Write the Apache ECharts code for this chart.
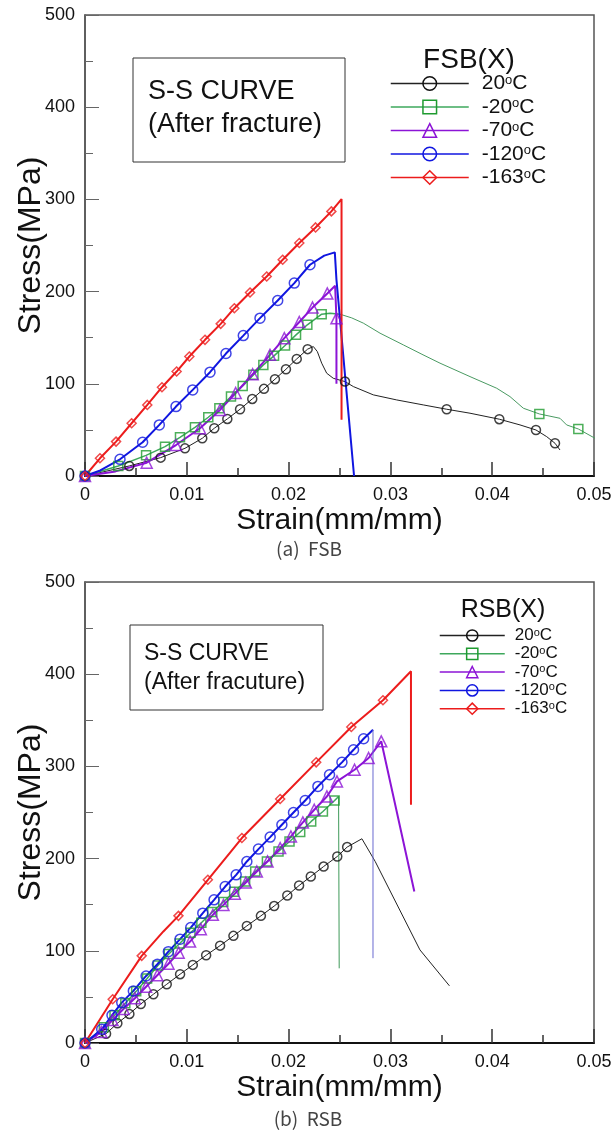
<!DOCTYPE html>
<html>
<head>
<meta charset="utf-8">
<script src="https://cdn.jsdelivr.net/npm/echarts@6/dist/echarts.min.js"></script>
<style>
html, body { margin: 0; padding: 0; background: #fff; }
#chart { width: 613px; height: 1136px; }
</style>
</head>
<body>
<div id="chart"></div>
<script>
// Test temperatures (legend order)
const temps = ['20', '-20', '-70', '-120', '-163'];

// ---------- FSB specimens: [strain (mm/mm), stress (MPa)] ----------
const fsb20Line = [[0,0],[0.00435,10.9],[0.00743,19.9],[0.00982,30],[0.01152,40.9],[0.0127,51.8],[0.01398,61.9],[0.01523,72.4],[0.01643,83.6],[0.01758,94.5],[0.01866,105],[0.01974,115.8],[0.0208,127],[0.02187,137.6],[0.02243,140.4],[0.02282,135],[0.02325,122.4],[0.02374,111.5],[0.02439,106],[0.02554,102.4],[0.02636,97],[0.02832,88],[0.03062,82.5],[0.03323,77.1],[0.03553,72.4],[0.03782,68.1],[0.0407,61.6],[0.04273,55.4],[0.0443,49.9],[0.04535,42.7],[0.04617,35.5],[0.04666,28.2]];
const fsb20Marks = [[0,0],[0.00435,10.9],[0.00743,19.9],[0.00982,30],[0.01152,40.9],[0.0127,51.8],[0.01398,61.9],[0.01523,72.4],[0.01643,83.6],[0.01758,94.5],[0.01866,105],[0.01974,115.8],[0.0208,127],[0.02187,137.6],[0.02554,102.4],[0.03553,72.4],[0.0407,61.6],[0.0443,49.9],[0.04617,35.5]];

const fsbM20Line = [[0,0],[0.00327,10.9],[0.006,22.4],[0.00786,31.8],[0.00933,42],[0.0108,52.8],[0.01211,63.7],[0.0132,73.5],[0.01434,86.1],[0.01549,97.7],[0.01654,109.7],[0.01752,120.5],[0.01857,130.3],[0.01965,141.5],[0.02073,153.1],[0.02184,164],[0.02325,175.5],[0.02407,176.6],[0.02505,175.5]];
const fsbM20Tail = [[0.02505,175.5],[0.0262,171.5],[0.02734,165.8],[0.02898,154.9],[0.03127,142.2],[0.0331,132],[0.03487,122.4],[0.03782,107.8],[0.04044,95.2],[0.04175,86.1],[0.04306,73.5],[0.04463,67.3],[0.04666,62.6],[0.04731,55.4],[0.04846,51],[0.0501,40.9],[0.05157,35.5],[0.0524,33]];
const fsbM20Marks = [[0,0],[0.00327,10.9],[0.006,22.4],[0.00786,31.8],[0.00933,42],[0.0108,52.8],[0.01211,63.7],[0.0132,73.5],[0.01434,86.1],[0.01549,97.7],[0.01654,109.7],[0.01752,120.5],[0.01857,130.3],[0.01965,141.5],[0.02073,153.1],[0.02184,164],[0.02325,175.5],[0.04463,67.3],[0.04846,51]];

const fsbM70Line = [[0,0],[0.003,5],[0.00606,14.4],[0.00894,33.6],[0.0113,51.8],[0.01326,71.7],[0.0148,90],[0.01647,110.4],[0.01817,131.4],[0.01958,149.5],[0.02105,167],[0.02235,182.7],[0.0238,198],[0.02457,206.3],[0.0247,171],[0.0247,100]];
const fsbM70Marks = [[0,0],[0.00606,14.4],[0.00894,33.6],[0.0113,51.8],[0.01326,71.7],[0.0148,90],[0.01647,110.4],[0.01817,131.4],[0.01958,149.5],[0.02105,167],[0.02235,182.7],[0.0238,198],[0.0247,171]];

const fsbM120Line = [[0,0],[0.0015,6],[0.00344,18.1],[0.00566,36.6],[0.0073,55.4],[0.00894,75.3],[0.01058,93.4],[0.01228,112.6],[0.01385,132.8],[0.01555,152.3],[0.01719,171.2],[0.01893,190.3],[0.02056,209.2],[0.0221,229.1],[0.0235,239],[0.02454,242.5],[0.0247,213],[0.02643,0]];
const fsbM120Marks = [[0,0],[0.00344,18.1],[0.00566,36.6],[0.0073,55.4],[0.00894,75.3],[0.01058,93.4],[0.01228,112.6],[0.01385,132.8],[0.01555,152.3],[0.01719,171.2],[0.01893,190.3],[0.02056,209.2],[0.0221,229.1]];

const fsbM163Line = [[0,0],[0.00147,19.2],[0.00305,37.3],[0.00458,57.2],[0.00612,77.1],[0.00756,96.3],[0.009,113.3],[0.01025,129.6],[0.01179,147.7],[0.01333,165],[0.01467,182],[0.01621,199],[0.01785,216.4],[0.01942,234.5],[0.02105,252.7],[0.02265,269.6],[0.0242,287],[0.0252,300.4],[0.0252,61]];
const fsbM163Marks = [[0,0],[0.00147,19.2],[0.00305,37.3],[0.00458,57.2],[0.00612,77.1],[0.00756,96.3],[0.009,113.3],[0.01025,129.6],[0.01179,147.7],[0.01333,165],[0.01467,182],[0.01621,199],[0.01785,216.4],[0.01942,234.5],[0.02105,252.7],[0.02265,269.6],[0.0242,287]];

// ---------- RSB specimens: [strain (mm/mm), stress (MPa)] ----------
const rsb20Marks = [[0,0],[0.00207,10.1],[0.00318,21.4],[0.00436,31.5],[0.00548,42.3],[0.00672,52.9],[0.00803,63.7],[0.00934,74.6],[0.01059,84.7],[0.0119,95.2],[0.01327,105.6],[0.01458,116.2],[0.0159,127],[0.01728,137.9],[0.01858,148.5],[0.01987,160],[0.02103,170.8],[0.02218,180.6],[0.02344,191.4],[0.02478,202.3],[0.02575,212.5]];
const rsb20Line = rsb20Marks.concat([[0.0272,221.5],[0.0285,197],[0.0329,101],[0.0358,62]]);

const rsbM20Marks = [[0,0],[0.00185,17],[0.0029,30],[0.00396,43],[0.00503,56],[0.0061,70],[0.00716,84],[0.00823,96.5],[0.0093,108],[0.01036,119.5],[0.01143,130.5],[0.0125,142],[0.01358,153],[0.01465,164],[0.01573,175.1],[0.01672,186],[0.01787,196.9],[0.01901,207.7],[0.02009,218.6],[0.02114,228.8],[0.02222,240.3],[0.02337,251.1],[0.02452,263]];
const rsbM20Line = rsbM20Marks.concat([[0.02491,267.4]]);
const rsbM20Tail = [[0.02491,267.4],[0.02497,81]];

const rsbM70Marks = [[0,0],[0.0016,12],[0.0027,25],[0.0038,37],[0.0049,48.5],[0.006,61],[0.0071,73.5],[0.0082,86],[0.0092,98],[0.01032,110],[0.01138,123.5],[0.01256,139],[0.0136,149.8],[0.01472,162],[0.0158,174],[0.01688,186],[0.01793,196.9],[0.01917,211.4],[0.02023,224],[0.0214,239.2],[0.02252,253],[0.02376,267.4],[0.02475,283.7],[0.02648,296.4],[0.02786,309.1],[0.0291,327.2]];
const rsbM70Line = rsbM70Marks.concat([[0.03235,164.3]]);

const rsbM120Marks = [[0,0],[0.00164,14.8],[0.00265,30],[0.00361,43.8],[0.00475,56.5],[0.006,72.7],[0.00711,85.4],[0.00819,99.1],[0.00934,112.6],[0.01039,125.2],[0.01157,140.8],[0.01268,155.3],[0.01377,169.7],[0.01485,182.4],[0.0159,196.9],[0.01704,210.3],[0.01819,223.3],[0.01934,236.7],[0.02048,250],[0.02163,263],[0.02288,278.3],[0.02402,291],[0.02524,304.4],[0.02638,318],[0.02737,330]];
const rsbM120Line = rsbM120Marks.concat([[0.02829,339.8]]);
const rsbM120Tail = [[0.02829,339.8],[0.02829,92]];

const rsbM163Marks = [[0,0],[0.00272,47.4],[0.00557,94.5],[0.00918,137.9],[0.01207,177],[0.01541,222.3],[0.01917,264.6],[0.02271,304.4],[0.02616,342.8],[0.02927,371.7]];
const rsbM163Line = [[0,0],[0.00272,47.4],[0.00557,94.5],[0.0077,121],[0.00918,137.9],[0.01207,177],[0.01541,222.3],[0.01917,264.6],[0.02271,304.4],[0.02616,342.8],[0.02927,371.7],[0.03202,403.2],[0.03202,258.4]];

// ---------- appearance ----------
const FONT = '"Liberation Sans", Arial, Helvetica, sans-serif';
const look = {
  '20':   { line: '#222222', mark: '#111111', symbol: 'circle',   size: 9,  width: 1 },
  '-20':  { line: '#3ea85c', mark: '#1f9b30', symbol: 'rect',     size: 9,  width: 1.5 },
  '-70':  { line: '#8c14d6', mark: '#8c14d6', symbol: 'triangle', size: 11, width: 2 },
  '-120': { line: '#1016e0', mark: '#1016e0', symbol: 'circle',   size: 10, width: 2 },
  '-163': { line: '#ec1c1c', mark: '#ec1c1c', symbol: 'diamond',  size: 9,  width: 2 }
};

const series = [];
function addCurve(gi, prefix, t, line, marks, tail, tailColor, noClip) {
  const s = look[t];
  const name = prefix + ' ' + t;
  series.push({
    type: 'line', name: name, xAxisIndex: gi, yAxisIndex: gi,
    data: line, showSymbol: false, symbol: s.symbol, symbolSize: s.size,
    color: s.line, lineStyle: { color: s.line, width: s.width },
    clip: !noClip, z: 2, emphasis: { disabled: true }, silent: true
  });
  if (tail) {
    series.push({
      type: 'line', name: name + ' tail', xAxisIndex: gi, yAxisIndex: gi,
      data: tail, showSymbol: false, symbol: 'none',
      lineStyle: { color: tailColor, width: 1 },
      clip: !noClip, z: 2, emphasis: { disabled: true }, silent: true
    });
  }
  series.push({
    type: 'scatter', name: name, xAxisIndex: gi, yAxisIndex: gi,
    data: marks, symbol: s.symbol, symbolSize: s.size,
    itemStyle: { color: 'rgba(0,0,0,0)', borderColor: s.mark, borderWidth: 1.5 },
    clip: false, z: 3, emphasis: { disabled: true }, silent: true
  });
}

addCurve(0, 'FSB', '20',   fsb20Line,   fsb20Marks);
addCurve(0, 'FSB', '-20',  fsbM20Line,  fsbM20Marks, fsbM20Tail, '#4a9a62', true);
addCurve(0, 'FSB', '-70',  fsbM70Line,  fsbM70Marks);
addCurve(0, 'FSB', '-120', fsbM120Line, fsbM120Marks);
addCurve(0, 'FSB', '-163', fsbM163Line, fsbM163Marks);

addCurve(1, 'RSB', '20',   rsb20Line,   rsb20Marks);
addCurve(1, 'RSB', '-20',  rsbM20Line,  rsbM20Marks, rsbM20Tail, '#3f9a5a');
addCurve(1, 'RSB', '-70',  rsbM70Line,  rsbM70Marks);
addCurve(1, 'RSB', '-120', rsbM120Line, rsbM120Marks, rsbM120Tail, '#6a6ad0');
addCurve(1, 'RSB', '-163', rsbM163Line, rsbM163Marks);

function xAxisFor(gi) {
  return {
    gridIndex: gi, type: 'value', min: 0, max: 0.05, interval: 0.01,
    name: 'Strain(mm/mm)', nameLocation: 'middle', nameGap: 30, nameMoveOverlap: false,
    nameTextStyle: { fontSize: 30, color: '#111', fontFamily: FONT },
    axisLine: { show: true, onZero: false, lineStyle: { color: '#111', width: 2 } },
    axisTick: { show: true, inside: true, length: 14, lineStyle: { color: '#333', width: 1.5 } },
    minorTick: { show: true, splitNumber: 2, length: 8, lineStyle: { color: '#333', width: 1.5 } },
    axisLabel: { fontSize: 18, color: '#111', fontFamily: FONT, margin: 10,
      formatter: v => (v === 0 ? '0' : v.toFixed(2)) },
    splitLine: { show: false }, minorSplitLine: { show: false }
  };
}
function yAxisFor(gi) {
  return {
    gridIndex: gi, type: 'value', min: 0, max: 500, interval: 100,
    name: 'Stress(MPa)', nameLocation: 'middle', nameGap: 38, nameMoveOverlap: false,
    nameTextStyle: { fontSize: 32, color: '#111', fontFamily: FONT },
    axisLine: { show: true, onZero: false, lineStyle: { color: '#555', width: 1.5 } },
    axisTick: { show: true, inside: true, length: 14, lineStyle: { color: '#666', width: 1 } },
    minorTick: { show: true, splitNumber: 2, length: 8, lineStyle: { color: '#666', width: 1 } },
    axisLabel: { fontSize: 18, color: '#111', fontFamily: FONT, margin: 10 },
    splitLine: { show: false }, minorSplitLine: { show: false }
  };
}

function legendFor(prefix, pos) {
  return {
    data: temps.map(t => ({
      name: prefix + ' ' + t,
      itemStyle: { color: 'rgba(0,0,0,0)', borderColor: look[t].mark, borderWidth: 1.5 }
    })),
    orient: 'vertical', left: pos.left, top: pos.top, padding: 0,
    itemWidth: pos.itemWidth, itemHeight: pos.itemHeight, itemGap: pos.gap,
    selectedMode: false,
    formatter: n => n.split(' ')[1] + '{s|o}C',
    lineStyle: { width: 1.5 },
    textStyle: {
      fontSize: pos.font, lineHeight: pos.lineHeight, color: '#111', fontFamily: FONT,
      padding: [0, 0, 0, pos.textPad],
      rich: { s: { fontSize: Math.round(pos.font * 0.62), fontFamily: FONT, color: '#111', verticalAlign: 'top', lineHeight: pos.lineHeight } }
    }
  };
}

function noteBox(x, y, w, h, lines, fontSize, lineHeight, padX, padY) {
  return {
    type: 'group', x: x, y: y, silent: true,
    children: [
      { type: 'rect', shape: { x: 0, y: 0, width: w, height: h },
        style: { fill: '#fff', stroke: '#333', lineWidth: 1 } },
      { type: 'text', x: padX, y: padY,
        style: { text: lines.join('\n'), fontSize: fontSize, lineHeight: lineHeight,
                 fontFamily: FONT, fill: '#111' } }
    ]
  };
}
function label(x, y, text, fontSize, family, fill) {
  return { type: 'text', x: x, y: y, silent: true,
    style: { text: text, fontSize: fontSize, fontFamily: family, fill: fill,
             align: 'center', verticalAlign: 'middle' } };
}

const chart = echarts.init(document.getElementById('chart'), null, { renderer: 'canvas' });
chart.setOption({
  animation: false,
  backgroundColor: '#fff',
  grid: [
    { left: 85, top: 15, width: 509, height: 461, show: true, borderColor: '#555', borderWidth: 1.5, outerBoundsMode: 'none' },
    { left: 85, top: 582, width: 509, height: 461, show: true, borderColor: '#555', borderWidth: 1.5, outerBoundsMode: 'none' }
  ],
  xAxis: [xAxisFor(0), xAxisFor(1)],
  yAxis: [yAxisFor(0), yAxisFor(1)],
  legend: [
    legendFor('FSB', { left: 390, top: 73, itemWidth: 78, itemHeight: 17, gap: 2.5, font: 21, lineHeight: 20, textPad: 8 }),
    legendFor('RSB', { left: 439, top: 627, itemWidth: 65, itemHeight: 14, gap: 1.3, font: 17, lineHeight: 17, textPad: 5 })
  ],
  graphic: [
    noteBox(133, 58, 212, 104, ['S-S CURVE', '(After fracture)'], 27, 33, 15, 17),
    noteBox(130, 625, 193, 85, ['S-S CURVE', '(After fracuture)'], 23, 29, 14, 14),
    label(469, 60, 'FSB(X)', 28, FONT, '#111'),
    label(503, 610, 'RSB(X)', 25, FONT, '#111'),
    label(309, 549, '(a)  FSB', 19, '"Noto Sans CJK KR", "Noto Sans", sans-serif', '#444'),
    label(308, 1119, '(b)  RSB', 19, '"Noto Sans CJK KR", "Noto Sans", sans-serif', '#444')
  ],
  series: series
});
</script>
</body>
</html>
